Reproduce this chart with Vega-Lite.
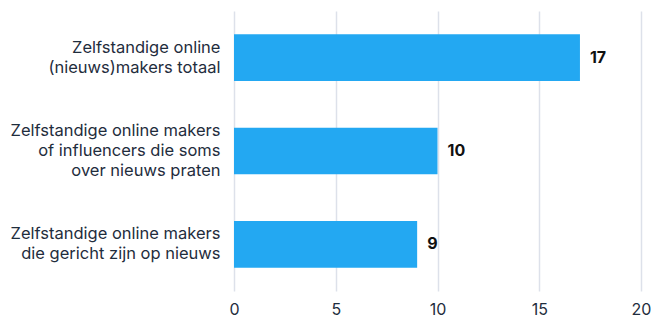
{
  "$schema": "https://vega.github.io/schema/vega-lite/v6.json",
  "width": 407,
  "height": 280,
  "autosize": "none",
  "padding": {"left": 234, "top": 11, "right": 13, "bottom": 29},
  "config": {"view": {"stroke": null}, "font": "Inter"},
  "data": {"values": [
    {"label": "Zelfstandige online|(nieuws)makers totaal", "value": 17, "order": 1},
    {"label": "Zelfstandige online makers|of influencers die soms|over nieuws praten", "value": 10, "order": 2},
    {"label": "Zelfstandige online makers|die gericht zijn op nieuws", "value": 9, "order": 3}
  ]},
  "encoding": {
    "y": {
      "field": "label", "type": "nominal", "sort": {"field": "order"},
      "scale": {"paddingInner": 0.5, "paddingOuter": 0.25},
      "axis": {"title": null, "domain": false, "ticks": false, "labelExpr": "split(datum.label, '|')",
               "labelOffset": {"condition": {"test": "indexof(datum.value, 'influencers') >= 0", "value": -20}, "value": -10},
               "labelFontSize": 16.5, "labelColor": "#1f2d3d", "labelPadding": 14, "labelLineHeight": 20, "labelLimit": 240, "labelFont": "Inter"}
    },
    "x": {
      "field": "value", "type": "quantitative",
      "scale": {"domain": [0, 20]},
      "axis": {"title": null, "domain": false, "ticks": false, "values": [0, 5, 10, 15, 20], "labelFontSize": 16, "labelFlush": false,
               "labelColor": "#1f2d3d", "labelPadding": 10, "gridColor": "#dde1ea", "gridWidth": 1.5, "labelFont": "Inter"}
    }
  },
  "layer": [
    {"mark": {"type": "bar", "color": "#23a8f2"}},
    {"mark": {"type": "text", "align": "left", "dx": 10, "fontSize": 16, "fontWeight": "bold", "color": "#111111", "font": "Inter"},
     "encoding": {"text": {"field": "value", "type": "quantitative"}}}
  ]
}
